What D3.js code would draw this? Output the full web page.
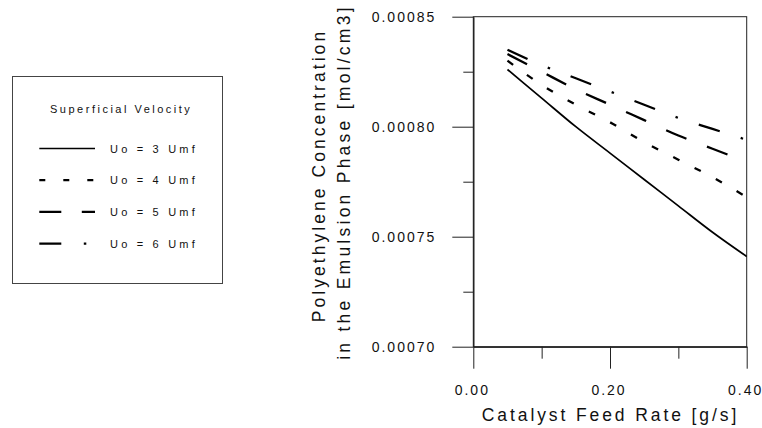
<!DOCTYPE html>
<html>
<head>
<meta charset="utf-8">
<script src="https://cdn.jsdelivr.net/npm/d3@7"></script>
<style>
  body { margin: 0; background: #fff; }
  svg { display: block; font-family: "Liberation Sans", Arial, sans-serif; }
</style>
</head>
<body>
<div id="chart"></div>
<script>
// catalyst feed rate [g/s]
const feedRate = [0.05, 0.10, 0.15, 0.20, 0.25, 0.30, 0.35, 0.40];
// polyethylene concentration [mol/cm3] for each superficial velocity
const uo3 = [0.000826, 0.000813, 0.000800, 0.000788, 0.000776, 0.000764, 0.000752, 0.000741];
const uo4 = [0.000830, 0.000819, 0.000810, 0.000802, 0.000793, 0.000785, 0.000777, 0.000768];
const uo5 = [0.000833, 0.000825, 0.000817, 0.000810, 0.000803, 0.000796, 0.000790, 0.000784];
const uo6 = [0.000835, 0.000828, 0.000822, 0.000816, 0.000810, 0.000804, 0.000799, 0.000794];
const seriesNames = ["Uo = 3 Umf", "Uo = 4 Umf", "Uo = 5 Umf", "Uo = 6 Umf"];
const xMajor = [0.00, 0.20, 0.40];
const xMinor = [0.10, 0.30];
const yMajor = [0.00070, 0.00075, 0.00080, 0.00085];
const yMinor = [0.000725, 0.000775, 0.000825];

const w = 762, h = 428;
const pl = 473.3, pr = 746.7, pt = 16.7, pb = 346.7;

const svg = d3.select('#chart').append('svg')
  .attr('width', w).attr('height', h);

const x = d3.scaleLinear().domain([0, 0.4]).range([pl, pr]);
const y = d3.scaleLinear().domain([0.0007, 0.00085]).range([pb, pt]);

// line styles: solid, short dash, long dash, long dash + dot
const styles = [
  { dash: null, width: 1.7 },
  { dash: '7,17', width: 2.3 },
  { dash: '22,22', width: 2.3 },
  { dash: '22,22,2.5,22', width: 2.3 }
];
const series = [uo3, uo4, uo5, uo6];

// frame
svg.append('rect')
  .attr('x', pl).attr('y', pt)
  .attr('width', pr - pl).attr('height', pb - pt)
  .attr('fill', 'none').attr('stroke', '#222').attr('stroke-width', 1);

// y axis
svg.append('g')
  .attr('transform', 'translate(' + pl + ',0)')
  .call(d3.axisLeft(y).tickValues(yMajor).tickSize(21).tickSizeOuter(0)
    .tickPadding(16).tickFormat(d3.format('.5f')));
svg.append('g')
  .attr('transform', 'translate(' + pl + ',0)')
  .call(d3.axisLeft(y).tickValues(yMinor).tickSize(10).tickSizeOuter(0).tickFormat(''));

// x axis
const xAxis = svg.append('g')
  .attr('transform', 'translate(0,' + pb + ')')
  .call(d3.axisBottom(x).tickValues(xMajor).tickSize(22).tickSizeOuter(0)
    .tickPadding(16).tickFormat(d3.format('.2f')));
xAxis.selectAll('.tick text').attr('dx', -1.5);
svg.append('g')
  .attr('transform', 'translate(0,' + pb + ')')
  .call(d3.axisBottom(x).tickValues(xMinor).tickSize(12).tickSizeOuter(0).tickFormat(''));

svg.selectAll('.domain').attr('stroke', '#222');
svg.selectAll('.tick line').attr('stroke', '#222');
svg.selectAll('.tick text')
  .attr('fill', '#111')
  .style('font-size', '14px')
  .style('letter-spacing', '2px');

// axis titles
svg.append('text')
  .attr('x', 610.5).attr('y', 421)
  .attr('text-anchor', 'middle')
  .style('font-size', '17.5px').style('letter-spacing', '2.9px')
  .attr('fill', '#111')
  .text('Catalyst Feed Rate [g/s]');

svg.append('text')
  .attr('transform', 'translate(324.5,175.5) rotate(-90)')
  .attr('text-anchor', 'middle')
  .style('font-size', '17.5px').style('letter-spacing', '3.05px')
  .attr('fill', '#111')
  .text('Polyethylene Concentration');

svg.append('text')
  .attr('transform', 'translate(349.5,182) rotate(-90)')
  .attr('text-anchor', 'middle')
  .style('font-size', '17.5px').style('letter-spacing', '3.25px')
  .attr('fill', '#111')
  .text('in the Emulsion Phase [mol/cm3]');

// curves
const line = d3.line()
  .x((d, i) => x(feedRate[i]))
  .y(d => y(d))
  .curve(d3.curveMonotoneX);

svg.selectAll('path.curve')
  .data(series)
  .enter()
  .append('path')
  .attr('class', 'curve')
  .attr('d', d => line(d))
  .attr('fill', 'none')
  .attr('stroke', '#000')
  .attr('stroke-width', (d, i) => styles[i].width)
  .attr('stroke-dasharray', (d, i) => styles[i].dash);

// legend
const legend = svg.append('g').attr('id', 'legend');
legend.append('rect')
  .attr('x', 12.5).attr('y', 76.5)
  .attr('width', 210).attr('height', 207)
  .attr('fill', 'none').attr('stroke', '#444').attr('stroke-width', 1);

legend.append('text')
  .attr('x', 121.2).attr('y', 113)
  .attr('text-anchor', 'middle')
  .style('font-size', '11px').style('letter-spacing', '2.5px')
  .attr('fill', '#111')
  .text('Superficial Velocity');

const rows = legend.selectAll('.row')
  .data(seriesNames)
  .enter()
  .append('g')
  .attr('class', 'row')
  .attr('transform', (d, i) => 'translate(0,' + (148.5 + i * 31.7) + ')');

rows.append('line')
  .attr('x1', 39.3).attr('x2', 95)
  .attr('y1', 0).attr('y2', 0)
  .attr('stroke', '#000')
  .attr('stroke-width', (d, i) => styles[i].width)
  .attr('stroke-dasharray', (d, i) => ['', '6,18', '22,20.5', '22,22.5,2.5,22'][i]);

rows.append('text')
  .attr('x', 110).attr('y', 4)
  .style('font-size', '11px').style('letter-spacing', '3.2px')
  .attr('fill', '#111')
  .text(d => d);
</script>
</body>
</html>
